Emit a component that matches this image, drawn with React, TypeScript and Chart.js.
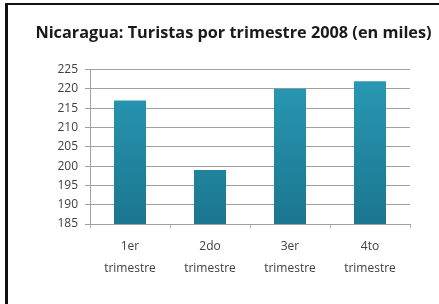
import React, { useEffect, useRef } from "react";
import { Chart, registerables } from "chart.js";

Chart.register(...registerables);

const TITLE = "Nicaragua: Turistas por trimestre 2008 (en miles)";
const categories: string[][] = [
  ["1er", "trimestre"],
  ["2do", "trimestre"],
  ["3er", "trimestre"],
  ["4to", "trimestre"],
];
const turistas: number[] = [217, 199, 220, 222];
const yMin = 185;
const yMax = 225;
const yStep = 5;

export default function App() {
  const ref = useRef<HTMLCanvasElement | null>(null);

  useEffect(() => {
    if (!ref.current) return;
    const chart = new Chart(ref.current, {
      type: "bar",
      data: {
        labels: categories,
        datasets: [
          {
            data: turistas,
            yAxisID: "y",
            backgroundColor: (ctx: any) => {
              const ch = ctx.chart;
              const area = ch.chartArea;
              if (!area) return "#2590aa";
              const g = ch.ctx.createLinearGradient(0, area.top, 0, area.bottom);
              g.addColorStop(0, "#2a9ab5");
              g.addColorStop(1, "#1b7690");
              return g;
            },
            borderWidth: 0,
            barPercentage: 0.4,
            categoryPercentage: 1,
          },
        ],
      },
      options: {
        animation: false,
        responsive: false,
        maintainAspectRatio: false,
        layout: { padding: { left: 35, right: 7, top: 0, bottom: 0 } },
        plugins: {
          legend: { display: false },
          tooltip: { enabled: false },
          title: {
            display: true,
            text: TITLE,
            color: "#1a1a1a",
            font: { family: "'Open Sans'", size: 16.3, weight: "bold" },
            padding: { top: 24, bottom: 26 },
          },
        },
        scales: {
          x: {
            grid: {
              offset: true,
              drawOnChartArea: false,
              drawTicks: true,
              tickLength: 4,
              color: "#b0b0b0",
            },
            border: { display: true, color: "#a0a0a0" },
            ticks: {
              color: "#404040",
              font: { family: "'Open Sans'", size: 12, lineHeight: 1.85 },
              padding: 7,
              maxRotation: 0,
            },
            afterFit: (s: any) => {
              s.height = 80;
            },
          },
          y: {
            min: yMin,
            max: yMax,
            ticks: {
              stepSize: yStep,
              color: "#404040",
              font: { family: "'Open Sans'", size: 12 },
              padding: 7,
            },
            grid: { color: "#a0a0a0", tickLength: 5 },
            border: { display: true, color: "#a0a0a0" },
            afterFit: (s: any) => {
              s.width = 55;
            },
          },
          yRight: {
            position: "right",
            min: yMin,
            max: yMax,
            ticks: { display: false },
            grid: { display: false, drawTicks: false },
            border: { display: false },
            afterFit: (s: any) => {
              s.width = 22;
            },
          },
        },
      },
    });
    return () => chart.destroy();
  }, []);

  return (
    <div style={{ position: "absolute", left: 0, top: 0, width: 439, height: 304, background: "#fff" }}>
      <canvas ref={ref} width={439} height={304} style={{ position: "absolute", left: 0, top: 0 }} />
      <div style={{ position: "absolute", left: 5, top: 3, width: 434, height: 2, background: "#111" }} />
      <div style={{ position: "absolute", left: 5, top: 3, width: 3, height: 301, background: "#111" }} />
    </div>
  );
}
